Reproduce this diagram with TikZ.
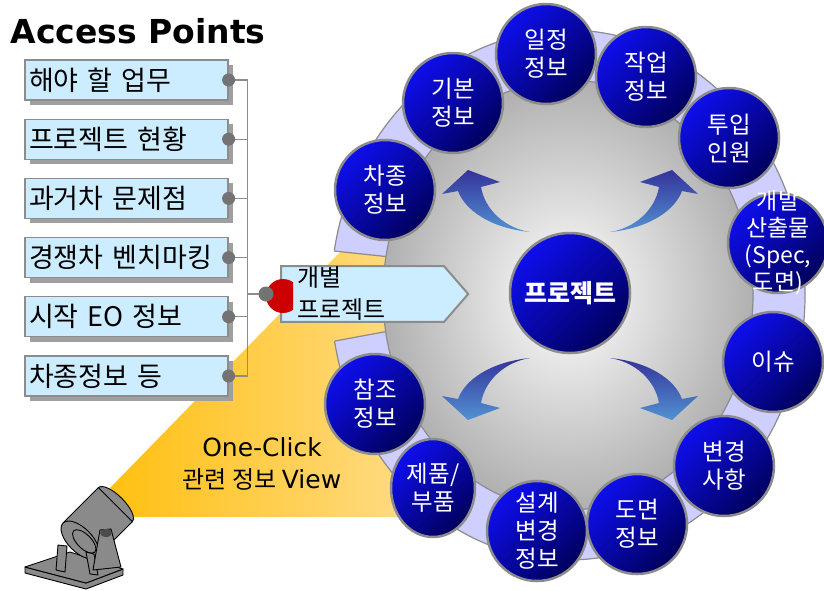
\documentclass[tikz,border=0pt]{standalone}
\usepackage{fontspec}
\setmainfont{Noto Sans CJK KR}
\newfontfamily\latinfont{DejaVu Sans}
\usepackage{tikz}
\usetikzlibrary{shapes,shapes.geometric,shapes.symbols,shadows,calc,positioning}
\definecolor{itemblue}{RGB}{204,236,255}
\definecolor{edgegray}{RGB}{140,140,140}
\definecolor{ringlilac}{RGB}{206,206,255}
\definecolor{topicbright}{RGB}{14,14,238}
\definecolor{topicdark}{RGB}{0,0,92}
\definecolor{arrowdark}{RGB}{52,51,154}
\definecolor{arrowlight}{RGB}{82,146,210}
\definecolor{beamstrong}{RGB}{255,192,16}
\definecolor{beamsoft}{RGB}{255,224,155}
\definecolor{plugred}{RGB}{204,0,0}
\definecolor{lampgray}{RGB}{138,138,138}
\tikzstyle{Item} = [rectangle, draw=edgegray, line width=1.2pt, fill=itemblue, minimum height=40pt, text width=195pt, inner xsep=4pt, align=left, font=\fontsize{27}{30}\selectfont, drop shadow={shadow xshift=5pt, shadow yshift=-5pt, fill=gray!75, opacity=1}]
\tikzstyle{Hub} = [shape=signal, signal to=east, signal pointer angle=98, draw=edgegray, line width=2pt, fill=itemblue, text width=131pt, inner xsep=16pt, inner ysep=1pt, align=left, font=\fontsize{24}{32}\selectfont]
\tikzstyle{Topic} = [circle, minimum size=100pt, inner sep=0pt, draw=edgegray, line width=2.5pt, top color=topicbright, bottom color=topicdark, shading angle=45, text=white, align=center, font=\fontsize{23.5}{28}\selectfont]
\tikzstyle{Link} = [edgegray, line width=1.3pt]
\tikzstyle{Knob} = [fill=gray!90!black]
\tikzstyle{Bend} = [top color=arrowdark, bottom color=arrowlight, draw=none]
\tikzstyle{Lamp} = [fill=lampgray, draw=black, line width=0.9pt, line join=round]
% one bent arrow, drawn around the middle of the disc
\newcommand\bendarrow[1]{\shade[Bend,#1] (-40,-63) .. controls (-80,-67) and (-105,-85) .. (-112,-104) -- (-128,-101) -- (-102,-125) -- (-70,-113) -- (-89,-108) .. controls (-85,-85) and (-65,-67) .. (-40,-63) -- cycle;}

\begin{document}
\begin{tikzpicture}[x=1pt,y=-1pt]
\useasboundingbox (0,0) rectangle (824,590);
\clip (0,0) rectangle (824,590);

% light beam
\shade[left color=beamstrong, right color=beamsoft] (108,490) -- (345,247) -- (470,247) -- (470,517) -- (132,517) -- cycle;

% lilac ring, open on the left
\begin{scope}
\clip (600,280) -- (200,236) -- (200,-10) -- (900,-10) -- (900,600) -- (200,600) -- (200,366) -- (600,292) -- cycle;
\fill[ringlilac, draw=edgegray, line width=1.2pt] (568,295) ellipse [x radius=237, y radius=265];
\end{scope}
\draw[edgegray, line width=1.2pt] (334,251) -- (400,258);
\draw[edgegray, line width=1.2pt] (335,341) -- (400,329);

% grey disc
\shade[inner color=white, outer color=gray!62, draw=edgegray, line width=1.2pt] (568,295) ellipse [x radius=185, y radius=215];

\bendarrow{shift={(570,295)}}
\bendarrow{shift={(570,295)}, xscale=-1}
\bendarrow{shift={(570,295)}, yscale=-1}
\bendarrow{shift={(570,295)}, xscale=-1, yscale=-1}

\node (Project)[Topic, minimum size=120pt, font=\bfseries\fontsize{25}{28}\selectfont] at (570,293) {프로젝트};

\node (Car Type)[Topic] at (385,190) {차종\\정보};
\node (Basic Info)[Topic] at (453,103) {기본\\정보};
\node (Schedule)[Topic] at (546,54) {일정\\정보};
\node (Work Info)[Topic] at (646,77) {작업\\정보};
\node (Manpower)[Topic] at (729,138) {투입\\인원};
\node (Deliverables)[Topic] at (778,243) {};
\node (Deliverables Text)[text=white, align=center, font=\fontsize{23}{27}\selectfont] at (Deliverables) {개발\\산출물\\(Spec,\\도면)};
\node (Issue)[Topic] at (773,362) {이슈};
\node (Changes)[Topic] at (724,466) {변경\\사항};
\node (Drawing Info)[Topic] at (637,524) {도면\\정보};
\node (Parts)[Topic, ellipse, minimum width=84pt, minimum height=98pt] at (433,488) {제품/\\부품};
\node (Design Change)[Topic] at (537,531) {설계\\변경\\정보};
\node (Reference)[Topic] at (375,404) {참조\\정보};

% access points
\node (Title)[anchor=west, font=\latinfont\bfseries\fontsize{33}{40}\selectfont] at (7,31) {Access Points};

\node (Todo)[Item] at (126.5,80) {해야 할 업무};
\node (Status)[Item, below=18pt of Todo] {프로젝트 현황};
\node (Past Issues)[Item, below=18pt of Status] {과거차 문제점};
\node (Benchmark)[Item, below=18pt of Past Issues] {경쟁차 벤치마킹};
\node (Start EO)[Item, below=18pt of Benchmark] {시작 EO 정보};
\node (Car Info)[Item, below=18pt of Start EO] {차종정보 등};

\node (Individual Project)[Hub, anchor=west] at (280,294) {개별\\프로젝트};

\coordinate (Bus) at ($(Todo.east)+(19,0)$);
\draw[Link] (Todo.east) -- (Bus) -- (Bus |- Car Info.east) -- (Car Info.east);
\draw[Link] (Status.east) -- (Bus |- Status.east);
\draw[Link] (Past Issues.east) -- (Bus |- Past Issues.east);
\draw[Link] (Benchmark.east) -- (Bus |- Benchmark.east);
\draw[Link] (Start EO.east) -- (Bus |- Start EO.east);
\draw[Link] (Bus |- Individual Project.west) -- (Individual Project.west);

\fill[Knob] (Todo.east) circle (6.5);
\fill[Knob] (Status.east) circle (6.5);
\fill[Knob] (Past Issues.east) circle (6.5);
\fill[Knob] (Benchmark.east) circle (6.5);
\fill[Knob] (Start EO.east) circle (6.5);
\fill[Knob] (Car Info.east) circle (6.5);

% red plug on the project box
\begin{scope}
\clip ($(Individual Project.west)+(-30,-30)$) rectangle ($(Individual Project.west)+(13,30)$);
\fill[plugred] ($(Individual Project.west)+(3,2)$) circle (17);
\end{scope}
\fill[Knob] ($(Individual Project.west)+(-14,0)$) circle (7.5);

\node (Beam Label)[align=center, font=\fontsize{24}{32}\selectfont] at (262,464) {{\latinfont\fontsize{25}{32}\selectfont One-Click}\\관련 정보 {\latinfont\fontsize{25}{32}\selectfont View}};

% projector
\draw[Lamp] (25,567) -- (25,573) -- (86,589) -- (123,575) -- (123,569) -- (86,583) -- cycle;
\draw[Lamp] (25,567) -- (70,552) -- (123,569) -- (86,583) -- cycle;
\draw[Lamp] (58,545) -- (67,546) -- (65,572) -- (56,570) -- cycle;
\begin{scope}[shift={(80,540)}, rotate=45]
\draw[Lamp] (50,0) ellipse [x radius=9, y radius=24];
\draw[Lamp] (0,-24) -- (50,-24) -- (50,24) -- (0,24);
\draw[Lamp] (0,0) ellipse [x radius=12, y radius=24];
\draw[Lamp] (2,4) ellipse [x radius=7, y radius=15];
\end{scope}
\draw[Lamp] (86,552) -- (94,554) -- (98,575) -- (90,574) -- cycle;
\draw[Lamp] (100,530) -- (111,529) -- (121,567) -- (93,570) -- cycle;
\fill[black!70] (106,533) ellipse [x radius=6, y radius=4];
\end{tikzpicture}
\end{document}
